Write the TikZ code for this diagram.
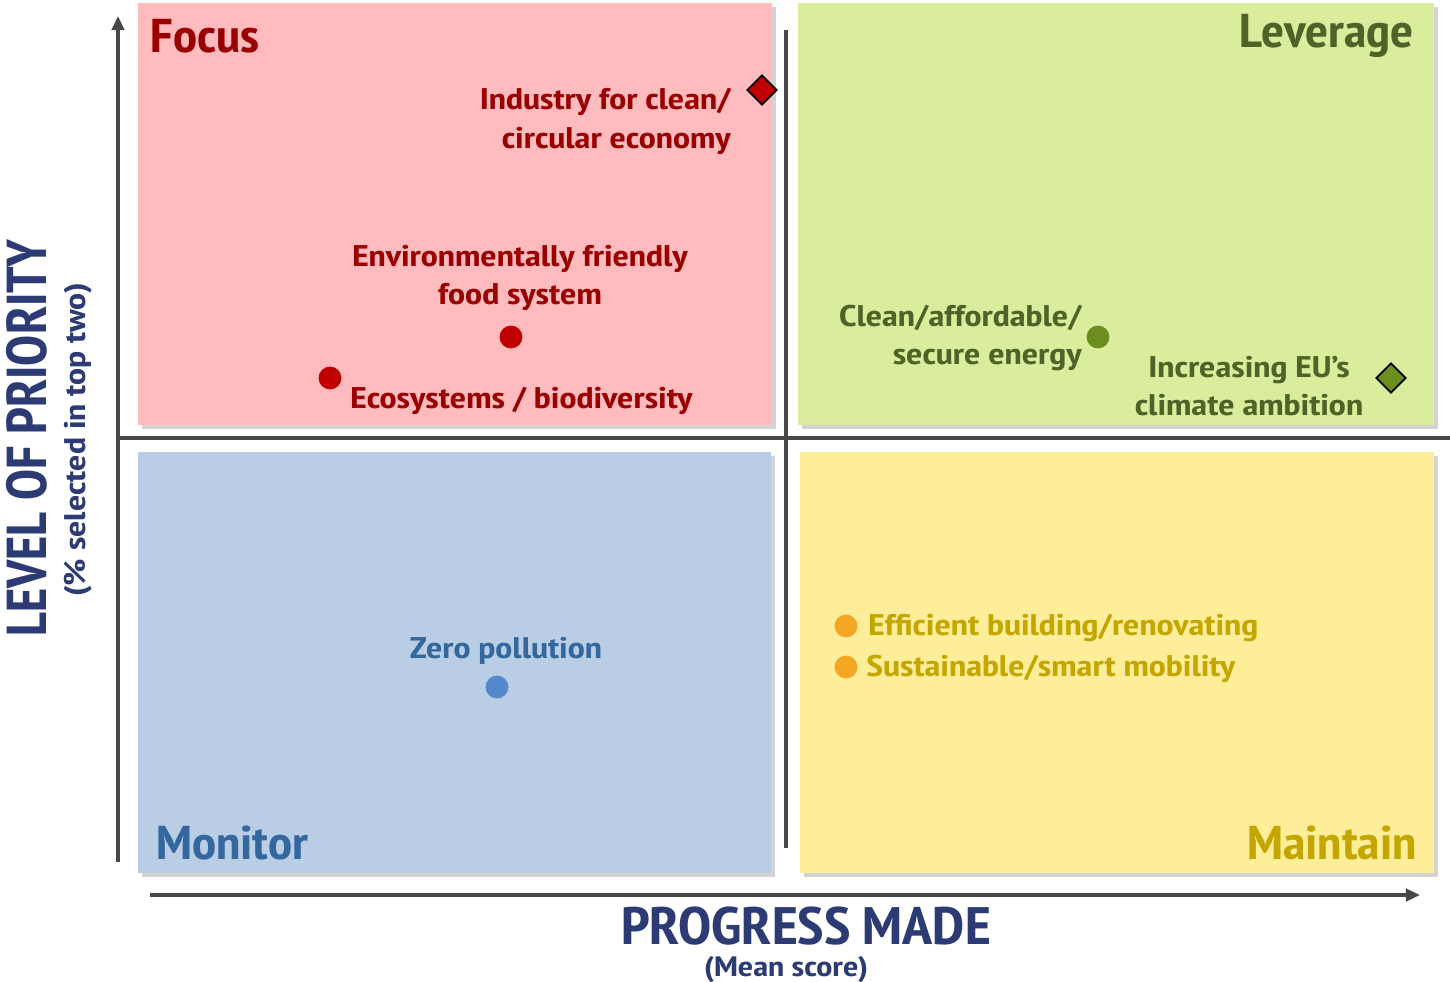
\documentclass[tikz,border=0pt]{standalone}
\usepackage{fontspec}
\setmainfont{PT Sans Narrow}
\newfontfamily\lblfont[FakeStretch=1.28]{PT Sans Narrow}
\newfontfamily\ttlfont[FakeStretch=1.14]{PT Sans Narrow}
\usetikzlibrary{shadows,shapes.geometric,arrows.meta}

\definecolor{focusbg}{HTML}{FFBBBE}
\definecolor{levbg}{HTML}{D9ED9C}
\definecolor{monbg}{HTML}{B9CDE5}
\definecolor{mainbg}{HTML}{FFEE99}
\definecolor{focustxt}{HTML}{9A0000}
\definecolor{levtxt}{HTML}{4F6228}
\definecolor{montxt}{HTML}{35679F}
\definecolor{maintxt}{HTML}{C4A600}
\definecolor{axistxt}{HTML}{2C3B74}
\definecolor{axisline}{HTML}{484848}
\definecolor{reddot}{HTML}{C00000}
\definecolor{greendot}{HTML}{6B8E1E}
\definecolor{bluedot}{HTML}{5588CC}
\definecolor{orangedot}{HTML}{F5A623}

\tikzset{
	quad/.style={drop shadow={shadow xshift=2.5pt,shadow yshift=-2.5pt,opacity=.35}},
	axis/.style={draw=axisline, line width=2.2pt},
	title/.style={font=\ttlfont\bfseries\fontsize{27}{27}\selectfont, inner sep=0pt},
	lbl/.style={font=\lblfont\bfseries\fontsize{17}{22}\selectfont, inner sep=0pt},
	dot/.style={circle, fill=#1, minimum size=13pt, inner sep=0pt},
	mark/.style={diamond, draw=black, line width=1pt, fill=#1, minimum size=17pt, inner sep=0pt},
}

\begin{document}
\begin{tikzpicture}[x=0.02cm,y=-0.02cm]
	\useasboundingbox (0,0) rectangle (1450,982);
	
	% quadrants
	\fill[focusbg, quad] (138,3) rectangle (772,425);
	\fill[levbg, quad] (798,3) rectangle (1434,425);
	\fill[monbg, quad] (138,452) rectangle (771,873);
	\fill[mainbg, quad] (800,452) rectangle (1434,873);
	
	% axes
	\coordinate (ybot) at (118,862);
	\coordinate (ytop) at (118,16);
	\coordinate (xleft) at (150,895);
	\coordinate (xright) at (1420,895);
	\coordinate (mleft) at (118,438);
	\coordinate (mright) at (1450,438);
	\coordinate (vtop) at (786,30);
	\coordinate (vbot) at (786,848);
	\draw[axis, -{Triangle[length=8pt,width=7pt]}] (ybot) -- (ytop);
	\draw[axis, -{Triangle[length=8pt,width=7pt]}] (xleft) -- (xright);
	\draw[axis, line width=2.8pt] (mleft) -- (mright);
	\draw[axis, line width=2.8pt] (vtop) -- (vbot);
	
	% quadrant titles
	\node[title, text=focustxt, anchor=west] (focus) at (150,36) {Focus};
	\node[title, text=levtxt, anchor=east] (lever) at (1414,36) {Leverage};
	\node[title, text=montxt, anchor=west] (monitor) at (156,843) {Monitor};
	\node[title, text=maintxt, anchor=east] (maintain) at (1417,843) {Maintain};
	
	% axis labels
	\node[font=\bfseries\fontsize{32}{32}\selectfont, text=axistxt, rotate=90, inner sep=0pt] (prio) at (27,438) {LEVEL OF PRIORITY};
	\node[font=\lblfont\bfseries\fontsize{17}{17}\selectfont, text=axistxt, rotate=90, inner sep=0pt] (prio2) at (78,440) {(\% selected in top two)};
	\node[font=\ttlfont\bfseries\fontsize{30}{30}\selectfont, text=axistxt, inner sep=0pt] (prog) at (806,926) {PROGRESS MADE};
	\node[font=\lblfont\bfseries\fontsize{16}{16}\selectfont, text=axistxt, inner sep=0pt] (prog2) at (786,970) {(Mean score)};
	
	% focus
	\node[mark=reddot] (ind) at (762,90) {};
	\node[lbl, text=focustxt, align=right, anchor=north east] (indl) at (731,88) {Industry for clean/\\circular economy};
	\node[dot=reddot] (food) at (511,337) {};
	\node[lbl, text=focustxt, align=center] (foodl) at (520,278) {Environmentally friendly\\food system};
	\node[dot=reddot] (eco) at (330,378) {};
	\node[lbl, text=focustxt, anchor=west] (ecol) at (350,401) {Ecosystems / biodiversity};
	
	% leverage
	\node[dot=greendot] (energy) at (1098,337) {};
	\node[lbl, text=levtxt, align=right, anchor=east] (energyl) at (1082,338) {Clean/affordable/\\secure energy};
	\node[mark=greendot] (clim) at (1391,378) {};
	\node[lbl, text=levtxt, align=center] (climl) at (1249,386) {Increasing EU’s\\climate ambition};
	
	% monitor
	\node[dot=bluedot] (zero) at (497,687) {};
	\node[lbl, text=montxt] (zerol) at (506,651) {Zero pollution};
	
	% maintain
	\node[dot=orangedot] (build) at (846,626) {};
	\node[lbl, text=maintxt, anchor=west] (buildl) at (868,628) {Efficient building/renovating};
	\node[dot=orangedot] (mob) at (846,667) {};
	\node[lbl, text=maintxt, anchor=west] (mobl) at (866,669) {Sustainable/smart mobility};
\end{tikzpicture}
\end{document}
